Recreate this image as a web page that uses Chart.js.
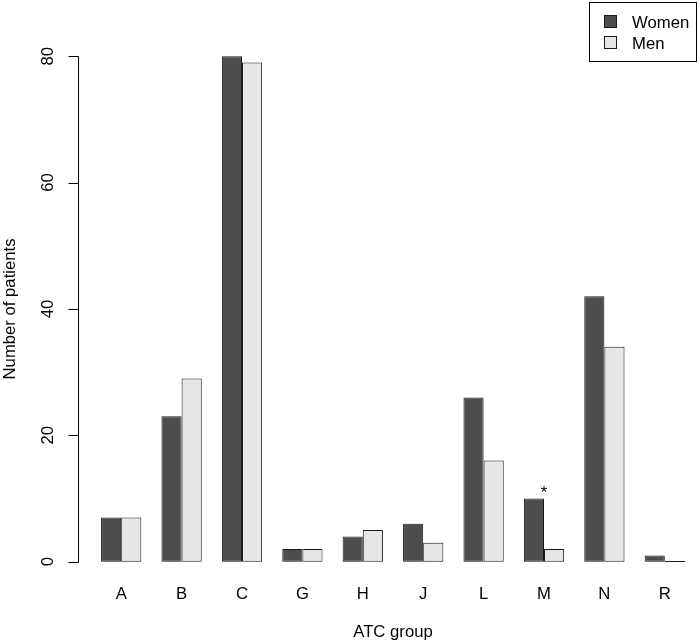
<!DOCTYPE html>
<html><head><meta charset="utf-8">
<script src="https://cdn.jsdelivr.net/npm/chart.js@4/dist/chart.umd.min.js"></script>
<style>html,body{margin:0;padding:0;background:#fff}</style>
</head><body>
<canvas id="c" width="700" height="643"></canvas>
<script>
const categories = ['A','B','C','G','H','J','L','M','N','R'];
const women = [7,23,80,2,4,6,26,10,42,1];
const men = [7,29,79,2,5,3,16,2,34,0];
const yTicks = [0,20,40,60,80];
const seriesLabels = ['Women','Men'];
const starred = ['M'];
const xTitle = 'ATC group';
const yTitle = 'Number of patients';

const FONT = '"Liberation Sans", Arial, Helvetica, sans-serif';
const FS = 16.7;
const COLORS = ['#4d4d4d', '#e6e6e6'];
const EDGE = '#1a1a1a';

const rStyle = {
  id: 'rStyle',
  afterDatasetsDraw(chart) {
    const ctx = chart.ctx;
    chart.data.datasets.forEach((ds, di) => {
      const meta = chart.getDatasetMeta(di);
      meta.data.forEach((el, i) => {
        if (ds.data[i] === 0) {
          ctx.save();
          ctx.strokeStyle = EDGE; ctx.lineWidth = 1;
          const yy = Math.round(el.y) - 0.5;
          ctx.beginPath();
          ctx.moveTo(el.x - el.width / 2, yy);
          ctx.lineTo(el.x + el.width / 2, yy);
          ctx.stroke();
          ctx.restore();
        }
      });
    });
  },
  afterDraw(chart) {
    const ctx = chart.ctx, y = chart.scales.y, x = chart.scales.x, ca = chart.chartArea;
    const ax = Math.round(ca.left - 13) + 0.5;
    ctx.save();
    ctx.strokeStyle = '#000'; ctx.lineWidth = 1;
    ctx.beginPath();
    ctx.moveTo(ax, Math.round(y.getPixelForValue(yTicks[0])) + 0.5);
    ctx.lineTo(ax, Math.round(y.getPixelForValue(yTicks[yTicks.length - 1])) + 0.5);
    yTicks.forEach(v => {
      const p = Math.round(y.getPixelForValue(v)) + 0.5;
      ctx.moveTo(ax, p); ctx.lineTo(ax - 10, p);
    });
    ctx.stroke();
    ctx.font = FS + 'px ' + FONT; ctx.fillStyle = '#000';
    ctx.textAlign = 'center'; ctx.textBaseline = 'middle';
    yTicks.forEach(v => {
      ctx.save();
      ctx.translate(ax - 30, y.getPixelForValue(v));
      ctx.rotate(-Math.PI / 2);
      ctx.fillText(String(v), 0, 0);
      ctx.restore();
    });
    ctx.save();
    ctx.translate(10, (ca.top + ca.bottom) / 2);
    ctx.rotate(-Math.PI / 2);
    ctx.fillText(yTitle, 0, 0);
    ctx.restore();

    ctx.textBaseline = 'alphabetic';
    starred.forEach(cat => {
      const i = categories.indexOf(cat);
      const top = Math.max(women[i], men[i]);
      ctx.fillText('*', x.getPixelForValue(i), y.getPixelForValue(top) - 1);
    });

    const W = chart.width;
    const bx = W - 111, by = 2, bw = 107, bh = 59;
    ctx.strokeStyle = '#000';
    ctx.strokeRect(bx + 0.5, by + 0.5, bw, bh);
    ctx.textAlign = 'left'; ctx.textBaseline = 'middle';
    chart.data.datasets.forEach((ds, di) => {
      const cy = 22 + di * 21;
      ctx.fillStyle = ds.backgroundColor;
      ctx.fillRect(bx + 15.5, cy - 6.5, 12, 12);
      ctx.strokeStyle = EDGE;
      ctx.strokeRect(bx + 15.5, cy - 6.5, 12, 12);
      ctx.fillStyle = '#000';
      ctx.fillText(ds.label, bx + 43, cy + 1);
    });
    ctx.restore();
  }
};

new Chart(document.getElementById('c'), {
  type: 'bar',
  data: {
    labels: categories,
    datasets: [
      { label: seriesLabels[0], data: women, backgroundColor: COLORS[0], borderColor: EDGE, borderWidth: 1, borderSkipped: false, categoryPercentage: 2/3, barPercentage: 1 },
      { label: seriesLabels[1], data: men, backgroundColor: COLORS[1], borderColor: EDGE, borderWidth: 1, borderSkipped: false, categoryPercentage: 2/3, barPercentage: 1 }
    ]
  },
  options: {
    responsive: false,
    animation: false,
    devicePixelRatio: 1,
    layout: { padding: { left: 91, right: 5, top: 36, bottom: 0 } },
    plugins: { legend: { display: false }, tooltip: { enabled: false } },
    scales: {
      x: {
        type: 'category',
        offset: true,
        grid: { display: false, drawTicks: false },
        border: { display: false },
        ticks: { color: '#000', font: { family: FONT, size: FS }, padding: 2 },
        title: { display: true, text: xTitle, color: '#000', font: { family: FONT, size: FS }, padding: { top: 16, bottom: 1 } }
      },
      y: { display: false, min: -3.2, max: 83.2 }
    }
  },
  plugins: [rStyle]
});
</script>
</body></html>
